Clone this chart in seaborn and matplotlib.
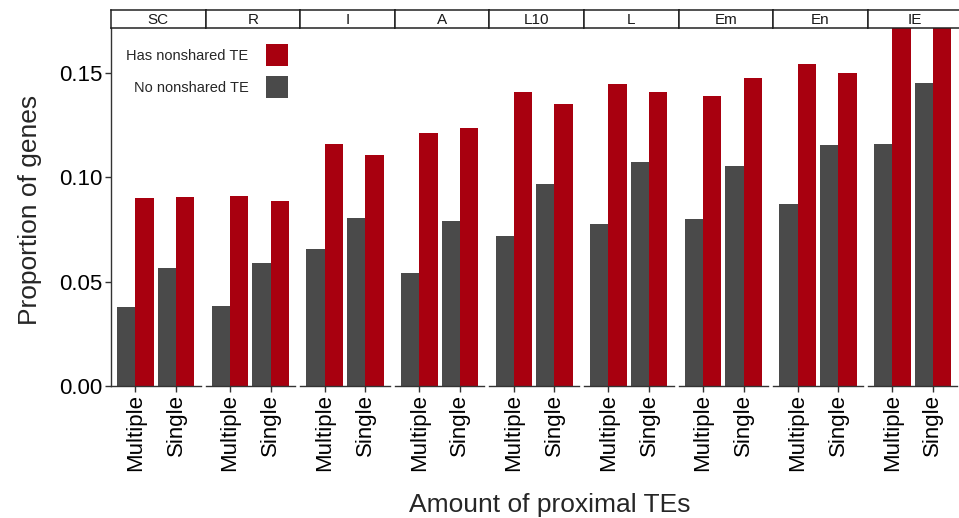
import matplotlib
matplotlib.use("Agg")
import matplotlib.pyplot as plt
import pandas as pd
import seaborn as sns
from matplotlib.patches import Patch

# Gene proportions by TE class, amount of proximal TEs and nonshared-TE status
facets = ["SC", "R", "I", "A", "L10", "L", "Em", "En", "IE"]
amounts = ["Multiple", "Single"]
statuses = ["No nonshared TE", "Has nonshared TE"]
no_multiple = [0.0378, 0.0384, 0.0656, 0.0539, 0.0716, 0.0774, 0.0797, 0.0869, 0.1157]
no_single = [0.0563, 0.0589, 0.0802, 0.0791, 0.0965, 0.1073, 0.1051, 0.1152, 0.1448]
has_multiple = [0.0901, 0.0911, 0.1158, 0.1211, 0.1405, 0.1447, 0.1386, 0.1540, 0.1860]
has_single = [0.0906, 0.0885, 0.1107, 0.1236, 0.1349, 0.1408, 0.1475, 0.1500, 0.1790]
y_ticks = [0.00, 0.05, 0.10, 0.15]
y_tick_labels = ["0.00", "0.05", "0.10", "0.15"]

rows = []
for i, f in enumerate(facets):
    rows.append((f, "Multiple", "No nonshared TE", no_multiple[i]))
    rows.append((f, "Single", "No nonshared TE", no_single[i]))
    rows.append((f, "Multiple", "Has nonshared TE", has_multiple[i]))
    rows.append((f, "Single", "Has nonshared TE", has_single[i]))
df = pd.DataFrame(rows, columns=["cls", "amount", "status", "prop"])

sns.set_theme(style="white")
plt.rcParams["font.family"] = ["Liberation Sans", "DejaVu Sans"]

palette = {"No nonshared TE": "#4a4a4a", "Has nonshared TE": "#a8000f"}
axis_col = "#333333"

W, H = 959, 518
fig = plt.figure(figsize=(W / 100, H / 100), dpi=100)


def box(left, top, width, height):
    return [left / W, 1 - (top + height) / H, width / W, height / H]


pitch = 94.6
x0 = 111
panel_top, panel_bottom = 28, 386
strip_top = 10
ymax = 0.1713

for i, f in enumerate(facets):
    left = x0 + i * pitch
    ax = fig.add_axes(box(left, panel_top, 89.5, panel_bottom - panel_top))
    sub = df[df["cls"] == f]
    sns.barplot(data=sub, x="amount", y="prop", hue="status", order=amounts,
                hue_order=statuses, palette=palette, width=0.9, errorbar=None,
                legend=False, ax=ax, linewidth=0, saturation=1)
    ax.set_xlim(-0.6, 1.6)
    ax.set_ylim(0, ymax)
    ax.set_xlabel("")
    ax.set_ylabel("")
    for s in ["top", "right"]:
        ax.spines[s].set_visible(False)
    ax.spines["bottom"].set_color(axis_col)
    ax.spines["bottom"].set_linewidth(1.0)
    ax.set_xticks([0, 1])
    ax.set_xticklabels(amounts, rotation=90, fontsize=16, color="black")
    ax.tick_params(axis="x", bottom=True, length=4, width=1, color=axis_col, pad=2)
    if i == 0:
        ax.spines["left"].set_color(axis_col)
        ax.spines["left"].set_linewidth(1.0)
        ax.set_yticks(y_ticks)
        ax.set_yticklabels(y_tick_labels, fontsize=16, color="black")
        ax.tick_params(axis="y", left=True, length=4, width=1, color=axis_col, pad=2)
    else:
        ax.spines["left"].set_visible(False)
        ax.set_yticks([])

    # facet strip
    sa = fig.add_axes(box(left, strip_top, pitch, panel_top - strip_top))
    sa.set_xticks([])
    sa.set_yticks([])
    sa.set_facecolor("white")
    for s in sa.spines.values():
        s.set_visible(True)
        s.set_color("#222222")
        s.set_linewidth(1.1)
    sa.text(0.5, 0.47, f, ha="center", va="center", fontsize=11,
            transform=sa.transAxes, color="#1a1a1a")

fig.text(30 / W, 1 - 210 / H, "Proportion of genes", rotation=90,
         ha="center", va="center", fontsize=19)
fig.text(550 / W, 1 - 505 / H, "Amount of proximal TEs",
         ha="center", va="center", fontsize=19)

handles = [Patch(facecolor=palette["Has nonshared TE"], edgecolor="none"),
           Patch(facecolor=palette["No nonshared TE"], edgecolor="none")]
fig.legend(handles, ["Has nonshared TE", "No nonshared TE"],
           loc="upper right", bbox_to_anchor=(288 / W, 1 - 44 / H),
           frameon=False, markerfirst=False, fontsize=10.5,
           handlelength=1.5, handleheight=1.94, labelspacing=0.68,
           handletextpad=1.2, borderpad=0, borderaxespad=0)

fig.savefig("out.png", dpi=100)
